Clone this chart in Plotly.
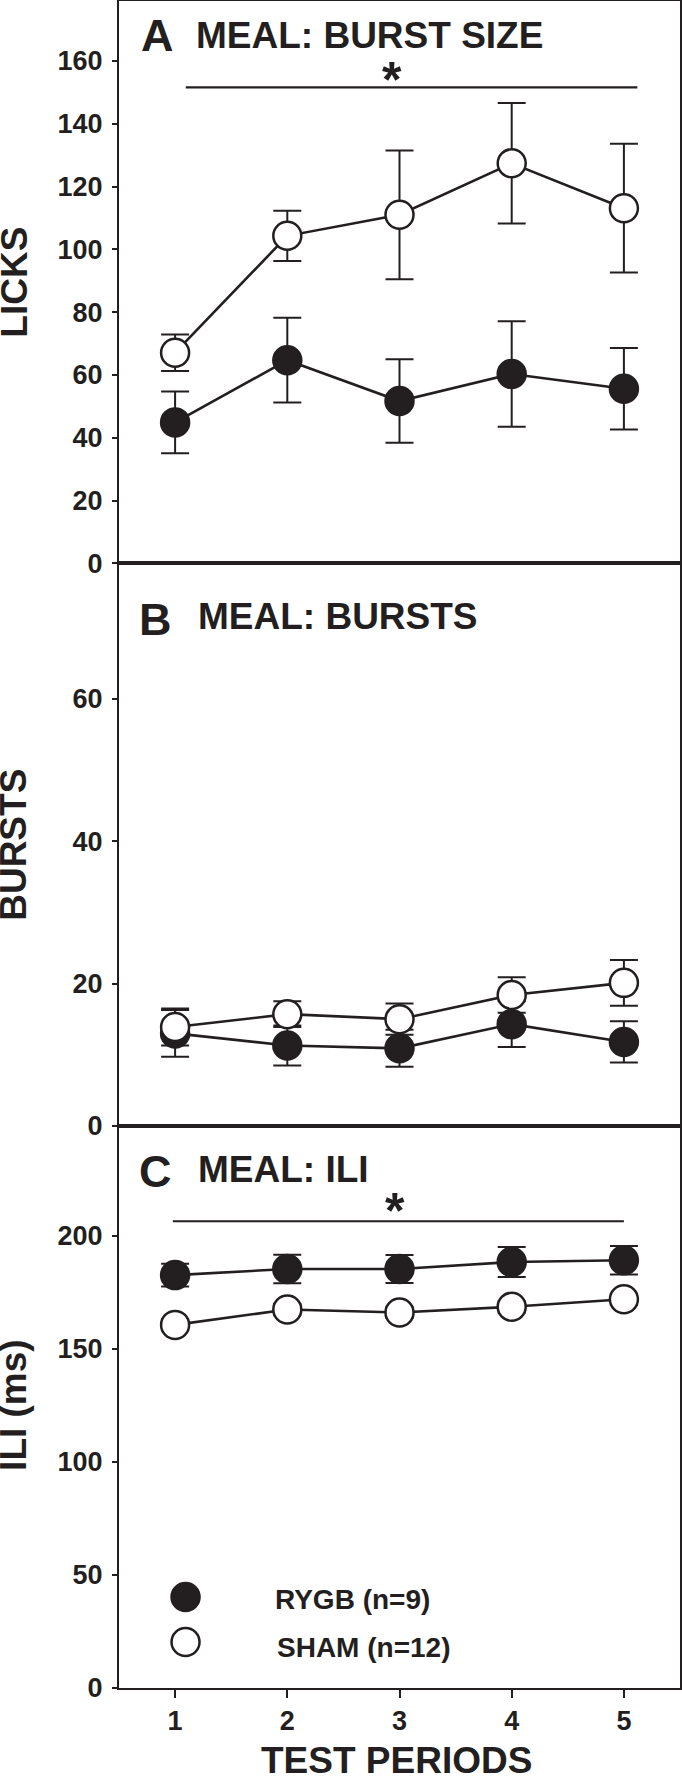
import plotly.graph_objects as go

# ---------------- data ----------------
periods = [1, 2, 3, 4, 5]
tick_labels = ["1", "2", "3", "4", "5"]

# Panel A: burst size (licks)
a_rygb = [44.9, 64.7, 51.7, 60.3, 55.6]
a_rygb_err = [9.8, 13.5, 13.3, 16.8, 13.0]
a_sham = [67.1, 104.3, 111.0, 127.4, 113.1]
a_sham_err = [5.8, 8.0, 20.5, 19.2, 20.5]

# Panel B: bursts
b_rygb = [13.0, 11.3, 10.9, 14.3, 11.8]
b_rygb_err = [3.3, 2.8, 2.6, 3.2, 2.9]
b_sham = [13.9, 15.7, 15.0, 18.4, 20.1]
b_sham_err = [2.6, 1.8, 2.2, 2.5, 3.2]

# Panel C: ILI (ms)
c_rygb = [182.5, 185.2, 185.2, 188.3, 189.1]
c_rygb_err = [5.0, 6.3, 6.2, 6.6, 6.3]
c_sham = [160.5, 167.3, 166.0, 168.5, 171.8]
c_sham_err = [2.5, 2.5, 2.5, 2.5, 2.5]

rygb_name = "RYGB (n=9)"
sham_name = "SHAM (n=12)"
panel_titles = ["MEAL: BURST SIZE", "MEAL: BURSTS", "MEAL: ILI"]
panel_letters = ["A", "B", "C"]
y_titles = ["LICKS", "BURSTS", "ILI (ms)"]
x_title = "TEST PERIODS"

# significance bars: (x0, x1, y)
sig_a = (1.095, 5.12, 151.6)
sig_c = (0.98, 5.0, 206.3)

# ---------------- layout geometry ----------------
W, H = 682, 1781
L, R = 119.3, 2.0
TOP, BOT = 1.0, 1687.7
plotH = BOT - TOP
A_B, B_C = 563.3, 1125.7


def py(p):  # pixel y -> paper y
    return (BOT - p) / plotH


def px(p):  # pixel x -> paper x
    return (p - L) / (W - L - R)


INK = "#231f20"
FONT = "Liberation Sans"

fig = go.Figure()

panels = [
    ("x", "y", a_rygb, a_rygb_err, a_sham, a_sham_err),
    ("x2", "y2", b_rygb, b_rygb_err, b_sham, b_sham_err),
    ("x3", "y3", c_rygb, c_rygb_err, c_sham, c_sham_err),
]

for xa, ya, ry, re, sy, se in panels:
    fig.add_trace(go.Scatter(
        x=periods, y=ry, xaxis=xa, yaxis=ya, mode="lines+markers",
        line=dict(color=INK, width=2.6),
        marker=dict(size=28, color=INK, line=dict(color=INK, width=2.5)),
        error_y=dict(type="data", array=re, visible=True, color=INK,
                     thickness=2, width=14),
        showlegend=False, name=rygb_name))
    fig.add_trace(go.Scatter(
        x=periods, y=sy, xaxis=xa, yaxis=ya, mode="lines+markers",
        line=dict(color=INK, width=2.6),
        marker=dict(size=28, color="white", line=dict(color=INK, width=2.5)),
        error_y=dict(type="data", array=se, visible=True, color=INK,
                     thickness=2, width=14),
        showlegend=False, name=sham_name))

# legend (drawn inside panel C)
leg_x = 1.093
leg_y = [40.2, 20.3]
fig.add_trace(go.Scatter(x=[leg_x], y=[leg_y[0]], xaxis="x3", yaxis="y3", mode="markers",
                         marker=dict(size=28, color=INK, line=dict(color=INK, width=2.5)),
                         showlegend=False, hoverinfo="skip"))
fig.add_trace(go.Scatter(x=[leg_x], y=[leg_y[1]], xaxis="x3", yaxis="y3", mode="markers",
                         marker=dict(size=28, color="white", line=dict(color=INK, width=2.5)),
                         showlegend=False, hoverinfo="skip"))

axis_common = dict(showline=True, mirror=True, linecolor=INK, linewidth=2,
                   showgrid=False, zeroline=False, automargin=False)
tickfont = dict(family=FONT, size=27, color=INK, weight="bold")

fig.update_layout(
    width=W, height=H,
    margin=dict(l=L, r=R, t=TOP, b=H - BOT, pad=0),
    paper_bgcolor="white", plot_bgcolor="white",
    font=dict(family=FONT, color=INK),
    xaxis=dict(range=[0.5, 5.5], domain=[0, 1], anchor="y", showticklabels=False,
               ticks="", **axis_common),
    xaxis2=dict(range=[0.5, 5.5], domain=[0, 1], anchor="y2", showticklabels=False,
                ticks="", **axis_common),
    xaxis3=dict(range=[0.5, 5.5], domain=[0, 1], anchor="y3", tickmode="array",
                tickvals=periods, ticktext=tick_labels, ticks="outside", ticklen=8,
                tickwidth=2, tickcolor=INK, tickfont=tickfont, **axis_common),
    yaxis=dict(range=[0, (A_B - TOP) / 3.14], domain=[py(A_B), 1], anchor="x",
               tickmode="array", tickvals=[0, 20, 40, 60, 80, 100, 120, 140, 160],
               ticks="outside", ticklen=5, tickwidth=2, tickcolor=INK,
               ticklabelstandoff=4, tickfont=tickfont, **axis_common),
    yaxis2=dict(range=[0, (B_C - A_B) / 7.115], domain=[py(B_C), py(A_B)], anchor="x2",
                tickmode="array", tickvals=[0, 20, 40, 60],
                ticks="outside", ticklen=5, tickwidth=2, tickcolor=INK,
                ticklabelstandoff=4, tickfont=tickfont, **axis_common),
    yaxis3=dict(range=[0, (BOT - B_C) / 2.262], domain=[0, py(B_C)], anchor="x3",
                tickmode="array", tickvals=[0, 50, 100, 150, 200],
                ticks="outside", ticklen=5, tickwidth=2, tickcolor=INK,
                ticklabelstandoff=4, tickfont=tickfont, **axis_common),
)

# significance bars and stars
for (x0, x1, yv), xa, ya in [(sig_a, "x", "y"), (sig_c, "x3", "y3")]:
    fig.add_shape(type="line", x0=x0, x1=x1, y0=yv, y1=yv, xref=xa, yref=ya,
                  line=dict(color=INK, width=2.2))

annots = []
# stars
annots.append(dict(x=px(392), y=py(80), xref="paper", yref="paper", text="*",
                   showarrow=False, font=dict(family=FONT, size=50, color=INK, weight="bold"),
                   xanchor="center", yanchor="middle"))
annots.append(dict(x=px(395), y=py(1211), xref="paper", yref="paper", text="*",
                   showarrow=False, font=dict(family=FONT, size=50, color=INK, weight="bold"),
                   xanchor="center", yanchor="middle"))

# panel letters and titles
letter_pos = [(139, 35), (137, 619), (137, 1171)]
title_pos = [(194, 35), (196, 616), (196, 1169)]
for (lx, ly), (tx, ty), let, tt in zip(letter_pos, title_pos, panel_letters, panel_titles):
    annots.append(dict(x=px(lx), y=py(ly), xref="paper", yref="paper", text=let,
                       showarrow=False, font=dict(family=FONT, size=45, color=INK, weight="bold"),
                       xanchor="left", yanchor="middle"))
    annots.append(dict(x=px(tx), y=py(ty), xref="paper", yref="paper", text=tt,
                       showarrow=False, font=dict(family=FONT, size=37, color=INK, weight="bold"),
                       xanchor="left", yanchor="middle"))

# y titles
for yt, cy in zip(y_titles, [282, 845, 1405]):
    annots.append(dict(x=px(14), y=py(cy), xref="paper", yref="paper", text=yt,
                       textangle=-90, showarrow=False,
                       font=dict(family=FONT, size=37, color=INK, weight="bold"),
                       xanchor="center", yanchor="middle"))

# x title
annots.append(dict(x=px(397), y=py(1760), xref="paper", yref="paper", text=x_title,
                   showarrow=False, font=dict(family=FONT, size=37, color=INK, weight="bold"),
                   xanchor="center", yanchor="middle"))

# legend texts
annots.append(dict(x=px(273), y=py(1599), xref="paper", yref="paper", text=rygb_name,
                   showarrow=False, font=dict(family=FONT, size=28, color=INK, weight="bold"),
                   xanchor="left", yanchor="middle"))
annots.append(dict(x=px(275), y=py(1647), xref="paper", yref="paper", text=sham_name,
                   showarrow=False, font=dict(family=FONT, size=28, color=INK, weight="bold"),
                   xanchor="left", yanchor="middle"))

fig.update_layout(annotations=annots)

fig.write_html("out.html", config={"displayModeBar": False},
               post_script="document.body.style.margin='0px';")
